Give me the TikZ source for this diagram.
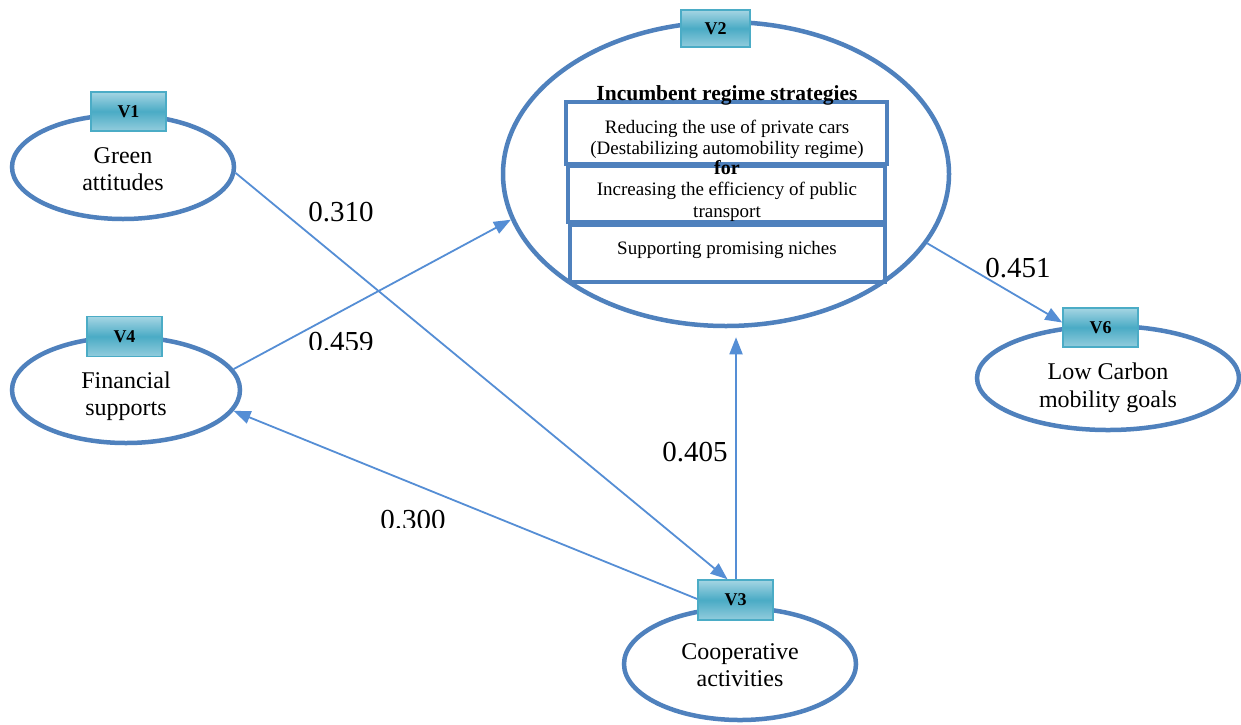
\documentclass[tikz,border=0pt]{standalone}
\usepackage{fontspec}
\setmainfont{Liberation Serif}
\usetikzlibrary{shapes.geometric,arrows.meta}
\definecolor{ringblue}{HTML}{4F81BD}
\definecolor{linkblue}{HTML}{558ED5}
\definecolor{tagedge}{HTML}{4BACC6}
\definecolor{tagdark}{HTML}{4AABC5}
\definecolor{taglight}{HTML}{A5D5E3}
\tikzset{
  ring/.style={draw=ringblue, line width=4.5pt, ellipse, inner sep=0pt},
  tag/.style={draw=tagedge, line width=1.5pt, rectangle, inner sep=0pt,
    top color=taglight, bottom color=taglight!80!tagdark, middle color=tagdark,
    minimum width=75pt, minimum height=39pt, font=\fontsize{18}{20}\selectfont\bfseries},
  ringtext/.style={align=center, font=\fontsize{24}{27.5}\selectfont},
  boxline/.style={draw=ringblue, line width=4pt},
  boxtext/.style={align=center, font=\fontsize{19}{21}\selectfont},
  link/.style={draw=linkblue, line width=1.8pt, -{Triangle[length=17pt,width=13pt]}},
  coef/.style={font=\fontsize{29}{32}\selectfont, inner sep=0pt}
}
\begin{document}
\begin{tikzpicture}[x=1pt,y=-1pt]
\useasboundingbox[fill=white] (0,0) rectangle (1241,724);

% outcome and factor ellipses
\node[ring, minimum width=222pt, minimum height=104pt] (e1) at (123,167) {};
\node[ring, minimum width=228pt, minimum height=106pt] (e4) at (126,390) {};
\node[ring, minimum width=446pt, minimum height=304pt] (e2) at (726,174) {};
\node[ring, minimum width=262pt, minimum height=104pt] (e6) at (1108,378) {};
\node[ring, minimum width=232pt, minimum height=112pt] (e3) at (740,664) {};

% ellipse captions
\node[ringtext] (c1) at (123,169) {Green\\attitudes};
\node[ringtext] (c4) at (126,396) {Financial\\supports};
\node[ringtext] (c6) at (1108,388) {Low Carbon\\mobility goals};
\node[ringtext] (c3) at (740,665) {Cooperative\\activities};

% strategy boxes inside V2
\draw[boxline] (566,102) rectangle (887,164);
\draw[boxline] (568,166) rectangle (885,222);
\draw[boxline] (570,225) rectangle (885,282);
\node[boxtext, font=\fontsize{21.5}{24}\selectfont\bfseries] (hd) at (727,95) {Incumbent regime strategies};
\node[boxtext] (b1) at (727,139) {Reducing the use of private cars\\(Destabilizing automobility regime)};
\node[boxtext, font=\fontsize{20}{22}\selectfont\bfseries] (fr) at (727,168) {for};
\node[boxtext, font=\fontsize{19}{22}\selectfont] (b2) at (727,202) {Increasing the efficiency of public\\transport};
\node[boxtext] (b3) at (727,250) {Supporting promising niches};

% variable tags
\node[tag] (t1) at (128.5,111.5) {V1};
\node[tag, minimum width=69pt, minimum height=37pt] (t2) at (715.5,28.5) {V2};
\node[tag, minimum height=40pt] (t4) at (124.5,336.5) {V4};
\node[tag] (t6) at (1100.5,327.5) {V6};
\node[tag, minimum height=40pt] (t3) at (735.5,600) {V3};

% paths
\draw[link] (e1.-3) -- ([xshift=-8pt]t3.north);
\draw[link] (e4.11) -- (e2.192);
\draw[link] ([yshift=1pt]t3.west) -- (e4.-11);
\draw[link] ([xshift=0.5pt]t3.north) -- ([xshift=0.5pt,yshift=-9pt]t3.north |- e2.south);
\draw[link] (e2.-19) -- ([yshift=5pt]t6.west);

% path coefficients
\node[coef] (k1) at (341,212) {0.310};
\begin{scope}
  \clip (300,320) rectangle (390,349);
  \node[coef] (k2) at (341,342) {0.459};
\end{scope}
\begin{scope}
  \clip (650,430) rectangle (730,462);
  \node[coef] (k3) at (695,452) {0.405};
\end{scope}
\begin{scope}
  \clip (370,500) rectangle (460,527);
  \node[coef] (k4) at (413,520) {0.300};
\end{scope}
\node[coef] (k5) at (1018,268) {0.451};
\end{tikzpicture}
\end{document}
